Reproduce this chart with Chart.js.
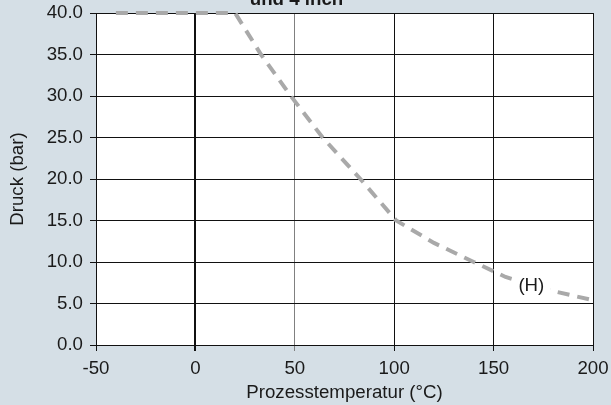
<!DOCTYPE html>
<html>
<head>
<meta charset="utf-8">
<script src="https://cdn.jsdelivr.net/npm/chart.js@4.4.1/dist/chart.umd.min.js"></script>
<style>
  html, body { margin: 0; padding: 0; background: #d5dfe6; overflow: hidden; }
  #wrap { position: relative; width: 611px; height: 405px; overflow: hidden; }
  #pressureChart { position: absolute; left: 0; top: -11px; }
</style>
</head>
<body>
<div id="wrap">
  <canvas id="pressureChart" width="611" height="416"></canvas>
</div>
<script>
const temperatures = [-40, 20, 33, 48, 64, 83, 101, 120, 140, 156, 178, 200];
const pressures = [40, 40, 35, 30, 25, 20, 15, 12.3, 10, 8.2, 6.6, 5.4];
const xTicks = [-50, 0, 50, 100, 150, 200];
const curveLabel = "(H)";
const labelPos = { x: 169, y: 7.1 };

const fontFamily = "'Liberation Sans', Arial, sans-serif";
const fontSize = 18.7;
const ink = "#1a1a1a";

const points = temperatures.map((t, i) => ({ x: t, y: pressures[i] }));

const plotBackground = {
  id: "plotBackground",
  beforeDraw(chart) {
    const { ctx, chartArea } = chart;
    ctx.save();
    ctx.fillStyle = "#ffffff";
    ctx.fillRect(chartArea.left, chartArea.top, chartArea.right - chartArea.left, chartArea.bottom - chartArea.top);
    ctx.restore();
  }
};

// "(H)" sits in a gap of the dashed curve
const curveTag = {
  id: "curveTag",
  afterDatasetsDraw(chart) {
    const { ctx, scales } = chart;
    const px = scales.x.getPixelForValue(labelPos.x);
    const py = scales.y.getPixelForValue(labelPos.y);
    ctx.save();
    ctx.font = fontSize + "px " + fontFamily;
    const w = ctx.measureText(curveLabel).width;
    ctx.fillStyle = "#ffffff";
    ctx.fillRect(px - w / 2 - 6, py - 11, w + 12, 22);
    ctx.fillStyle = ink;
    ctx.textAlign = "center";
    ctx.textBaseline = "middle";
    ctx.fillText(curveLabel, px, py);
    ctx.restore();
  }
};

new Chart(document.getElementById("pressureChart"), {
  type: "line",
  data: {
    datasets: [
      {
        data: points,
        borderColor: "#a9a9a9",
        borderWidth: 4,
        borderDash: [12, 8],
        pointRadius: 0,
        tension: 0,
        fill: false,
        clip: false
      }
    ]
  },
  options: {
    responsive: false,
    animation: false,
    devicePixelRatio: 1,
    layout: { padding: { left: 0, right: 18, top: 0, bottom: 0 } },
    plugins: {
      legend: { display: false },
      tooltip: { enabled: false },
      title: {
        display: true,
        text: "und 4 inch",
        color: ink,
        font: { family: fontFamily, size: fontSize, weight: "bold" },
        padding: { top: 0, bottom: 1.6 }
      }
    },
    scales: {
      x: {
        type: "linear",
        min: -50,
        max: 200,
        afterBuildTicks(scale) {
          scale.ticks = xTicks.map(v => ({ value: v }));
        },
        afterFit(scale) {
          scale.height = 60;
          scale.paddingLeft = 0;
          scale.paddingRight = 0;
        },
        grid: {
          color: ctx => (ctx.tick && ctx.tick.value === 50 ? "#808080" : "#111111"),
          lineWidth: ctx => (ctx.tick && ctx.tick.value === 0 ? 2 : 1),
          tickLength: 6
        },
        border: { color: "#111111" },
        ticks: {
          color: ink,
          padding: 7,
          maxRotation: 0,
          font: { family: fontFamily, size: fontSize }
        },
        title: {
          display: true,
          text: "Prozesstemperatur (°C)",
          color: ink,
          font: { family: fontFamily, size: fontSize },
          padding: { top: 0, bottom: 1 }
        }
      },
      y: {
        min: 0,
        max: 40,
        afterFit(scale) {
          scale.width = 96;
          scale.paddingTop = 0;
          scale.paddingBottom = 0;
        },
        grid: { color: "#111111", lineWidth: 1, tickLength: 6 },
        border: { color: "#111111" },
        ticks: {
          stepSize: 5,
          color: ink,
          padding: 7,
          font: { family: fontFamily, size: fontSize },
          callback: v => v.toFixed(1)
        },
        title: {
          display: true,
          text: "Druck (bar)",
          color: ink,
          font: { family: fontFamily, size: fontSize },
          padding: { top: 7, bottom: 0 }
        }
      }
    }
  },
  plugins: [plotBackground, curveTag]
});
</script>
</body>
</html>
